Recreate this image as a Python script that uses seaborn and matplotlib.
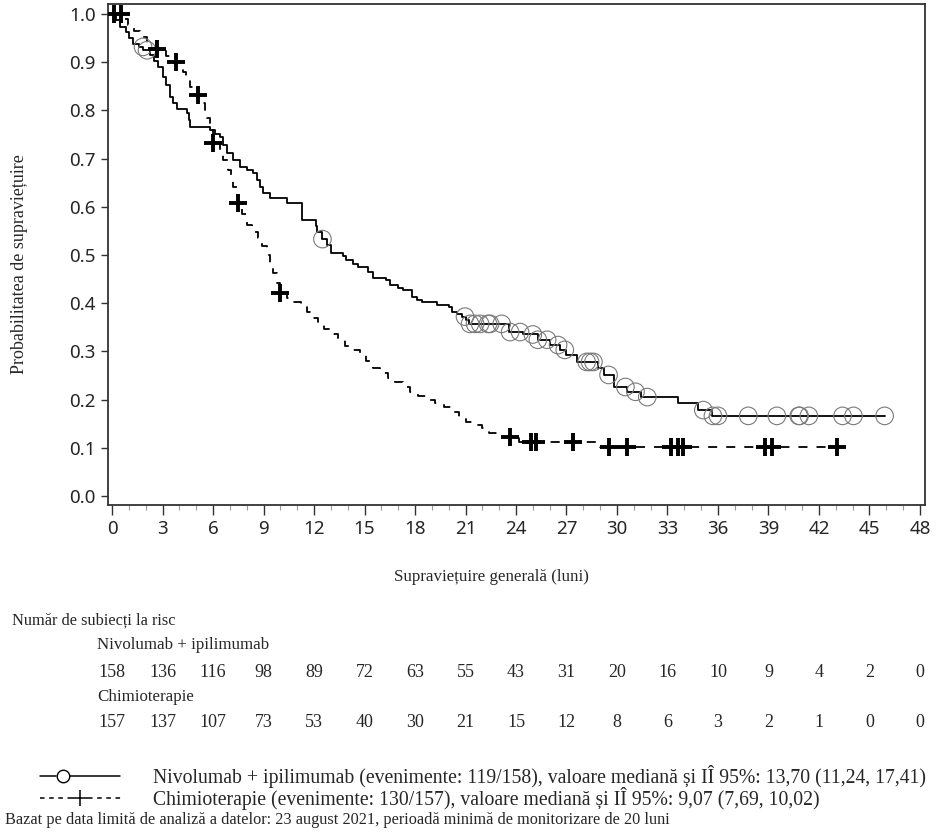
import numpy as np
import matplotlib
matplotlib.use("Agg")
import matplotlib.pyplot as plt
import matplotlib.transforms as mtransforms
import seaborn as sns

# luni (pentru tabelul de risc)
months = [0, 3, 6, 9, 12, 15, 18, 21, 24, 27, 30, 33, 36, 39, 42, 45, 48]
risk_nivo = [158, 136, 116, 98, 89, 72, 63, 55, 43, 31, 20, 16, 10, 9, 4, 2, 0]
risk_chemo = [157, 137, 107, 73, 53, 40, 30, 21, 15, 12, 8, 6, 3, 2, 1, 0, 0]

# curba Kaplan-Meier Nivolumab + ipilimumab
nivo_t = [0.0, 0.25, 0.48, 0.8, 1.0, 1.27, 1.6, 1.86, 2.26, 2.5, 2.74, 3.04, 3.2, 3.45, 3.6,
          3.84, 4.44, 4.55, 4.63, 5.82, 6.1, 6.42, 6.6, 6.81, 7.2, 7.6, 8.0, 8.4, 8.6, 8.8,
          8.99, 9.4, 10.4, 11.3, 12.1, 12.2, 12.5, 12.8, 13.0, 13.7, 13.9, 14.3, 14.6, 15.2,
          15.5, 16.3, 16.5, 17.0, 17.3, 17.8, 18.1, 18.4, 19.3, 20.0, 20.2, 20.5, 20.8, 21.0,
          21.2, 23.6, 24.4, 25.3, 26.0, 26.6, 27.0, 27.6, 28.9, 29.2, 29.8, 30.6, 31.4, 33.6,
          34.8, 35.65, 45.9]
nivo_s = [1.0, 0.987, 0.974, 0.962, 0.95, 0.939, 0.932, 0.925, 0.915, 0.902, 0.89, 0.87, 0.852,
          0.828, 0.816, 0.804, 0.794, 0.78, 0.766, 0.759, 0.752, 0.745, 0.728, 0.711, 0.697,
          0.683, 0.676, 0.67, 0.656, 0.642, 0.628, 0.618, 0.608, 0.573, 0.56, 0.548, 0.533,
          0.52, 0.504, 0.497, 0.49, 0.482, 0.475, 0.465, 0.452, 0.448, 0.438, 0.432, 0.427,
          0.413, 0.407, 0.402, 0.396, 0.392, 0.382, 0.378, 0.372, 0.365, 0.357, 0.34, 0.335,
          0.324, 0.313, 0.303, 0.293, 0.278, 0.266, 0.251, 0.226, 0.216, 0.205, 0.193, 0.178,
          0.166, 0.166]
nivo_cens = [1.84, 2.08, 12.5, 20.97, 21.27, 21.57, 21.87, 22.34, 22.46, 23.15, 23.65, 24.24,
             25.0, 25.3, 25.85, 26.5, 26.9, 28.2, 28.4, 28.6, 29.5, 30.5, 31.1, 31.8, 35.13,
             35.7, 36.0, 37.8, 39.5, 40.8, 40.85, 41.4, 43.4, 44.05, 45.9]

# curba Chimioterapie
chemo_t = [0.0, 0.7, 0.95, 1.3, 1.66, 2.1, 2.67, 3.2, 3.8, 4.2, 4.4, 4.63, 5.1, 5.3, 5.5, 5.64,
           5.8, 6.0, 6.42, 6.6, 6.9, 7.05, 7.2, 7.5, 7.7, 8.0, 8.3, 8.67, 8.9, 9.2, 9.4, 9.57,
           9.8, 9.98, 10.4, 10.7, 11.2, 11.6, 11.9, 12.24, 12.6, 13.07, 13.4, 13.84, 14.3,
           14.74, 15.1, 15.5, 15.9, 16.4, 16.8, 17.3, 17.7, 18.2, 18.7, 19.2, 19.7, 20.2, 20.6,
           21.0, 21.5, 21.98, 22.4, 22.9, 24.2, 29.0, 43.1]
chemo_s = [1.0, 0.989, 0.977, 0.965, 0.952, 0.94, 0.927, 0.914, 0.9, 0.88, 0.865, 0.849, 0.832,
           0.816, 0.8, 0.784, 0.76, 0.732, 0.718, 0.697, 0.676, 0.658, 0.641, 0.608, 0.585,
           0.562, 0.548, 0.535, 0.518, 0.5, 0.481, 0.463, 0.442, 0.421, 0.411, 0.402, 0.392,
           0.382, 0.37, 0.359, 0.347, 0.336, 0.324, 0.311, 0.302, 0.293, 0.28, 0.266, 0.256,
           0.245, 0.236, 0.226, 0.216, 0.207, 0.2, 0.193, 0.184, 0.174, 0.164, 0.154, 0.148,
           0.141, 0.131, 0.122, 0.112, 0.102, 0.102]
chemo_cens = [0.12, 0.55, 2.67, 3.8, 5.1, 6.0, 7.5, 9.98, 23.65, 24.9, 25.2, 27.4, 29.5,
              30.6, 33.2, 33.6, 33.9, 38.8, 39.2, 43.1]


def step_value(t_list, s_list, t):
    idx = np.searchsorted(t_list, t, side='right') - 1
    return np.asarray(s_list)[idx]


sns.set_style("ticks")
plt.rcParams['font.family'] = ['Liberation Serif', 'DejaVu Serif']

fig = plt.figure(figsize=(9.49, 8.38), dpi=100)
W, H = 949, 838
ax = fig.add_axes([108 / W, 1 - 505 / H, (925 - 108) / W, (505 - 4) / H])

sns.lineplot(x=nivo_t, y=nivo_s, ax=ax, drawstyle='steps-post', estimator=None, sort=False,
             color='black', linewidth=1.3)
sns.lineplot(x=chemo_t, y=chemo_s, ax=ax, drawstyle='steps-post', estimator=None, sort=False,
             color='black', linewidth=1.3, linestyle=(0, (5, 5)))

sns.scatterplot(x=nivo_cens, y=step_value(nivo_t, nivo_s, nivo_cens), ax=ax, marker='o', s=160,
                facecolor='none', edgecolor='#7a7a7a', linewidth=0.8, zorder=3)
sns.scatterplot(x=chemo_cens, y=step_value(chemo_t, chemo_s, chemo_cens), ax=ax, marker='+',
                s=160, color='black', linewidth=2.8, zorder=4)

ax.set_xlim(-0.24, 48.3)
ax.set_ylim(-0.019, 1.021)
ax.set_xticks(months)
ax.set_xticks(np.arange(0, 49, 1), minor=True)
ax.set_yticks(np.round(np.arange(0, 1.01, 0.1), 1))
ax.set_yticklabels([f'{v:.1f}' for v in np.arange(0, 1.01, 0.1)])
for lab in ax.get_xticklabels() + ax.get_yticklabels():
    lab.set_family('Noto Sans')
    lab.set_fontsize(13.5)
ax.tick_params(axis='both', which='major', length=5, width=1, color='#333333', pad=4)
ax.tick_params(axis='x', which='minor', length=3.5, width=0.8, color='#999999')
ax.tick_params(axis='x', which='major', length=7)
for sp in ax.spines.values():
    sp.set_visible(True)
    sp.set_color('#333333')
    sp.set_linewidth(1.3)
ax.set_xlabel('')
ax.set_ylabel('')

fig.text(20 / W, 1 - 264 / H, 'Probabilitatea de supraviețuire', rotation=90,
         ha='center', va='center', fontsize=13)
fig.text(491 / W, 1 - 577 / H, 'Supraviețuire generală (luni)', ha='center', va='center',
         fontsize=12.2)

# tabelul de risc
trans = mtransforms.blended_transform_factory(ax.transData, fig.transFigure)
fig.text(12 / W, 1 - 620 / H, 'Număr de subiecți la risc', ha='left', va='center', fontsize=11.8)
fig.text(97 / W, 1 - 645 / H, 'Nivolumab + ipilimumab', ha='left', va='center', fontsize=12.2)
fig.text(97 / W, 1 - 697 / H, 'Chimioterapie', ha='left', va='center', fontsize=12.2)
for m, a, b in zip(months, risk_nivo, risk_chemo):
    ax.text(m, 1 - 672 / H, str(a), transform=trans, ha='center', va='center', fontsize=13,
            clip_on=False)
    ax.text(m, 1 - 722 / H, str(b), transform=trans, ha='center', va='center', fontsize=13,
            clip_on=False)

# legenda
lax = fig.add_axes([0, 0, 1, 1], facecolor='none')
lax.set_xlim(0, W)
lax.set_ylim(H, 0)
lax.axis('off')
lax.plot([40, 56], [776, 776], color='black', lw=1.1)
lax.plot([70, 120], [776, 776], color='black', lw=1.1)
lax.plot([63], [776], marker='o', ms=9, mfc='none', mec='black', mew=1.0)
lax.plot([40, 72], [798, 798], color='black', lw=1.1, linestyle=(0, (3, 3)))
lax.plot([88, 122], [798, 798], color='black', lw=1.1, linestyle=(0, (3, 3)))
lax.plot([80], [798], marker='+', ms=11, mec='black', mew=1.1)
lax.text(153, 776, 'Nivolumab + ipilimumab (evenimente: 119/158), valoare mediană și IÎ 95%: '
         '13,70 (11,24, 17,41)', ha='left', va='center', fontsize=14.2)
lax.text(153, 798, 'Chimioterapie (evenimente: 130/157), valoare mediană și IÎ 95%: '
         '9,07 (7,69, 10,02)', ha='left', va='center', fontsize=14.2)
lax.text(5, 820, 'Bazat pe data limită de analiză a datelor: 23 august 2021, perioadă minimă '
         'de monitorizare de 20 luni', ha='left', va='center', fontsize=11.7)

fig.savefig('out.png', dpi=100)
